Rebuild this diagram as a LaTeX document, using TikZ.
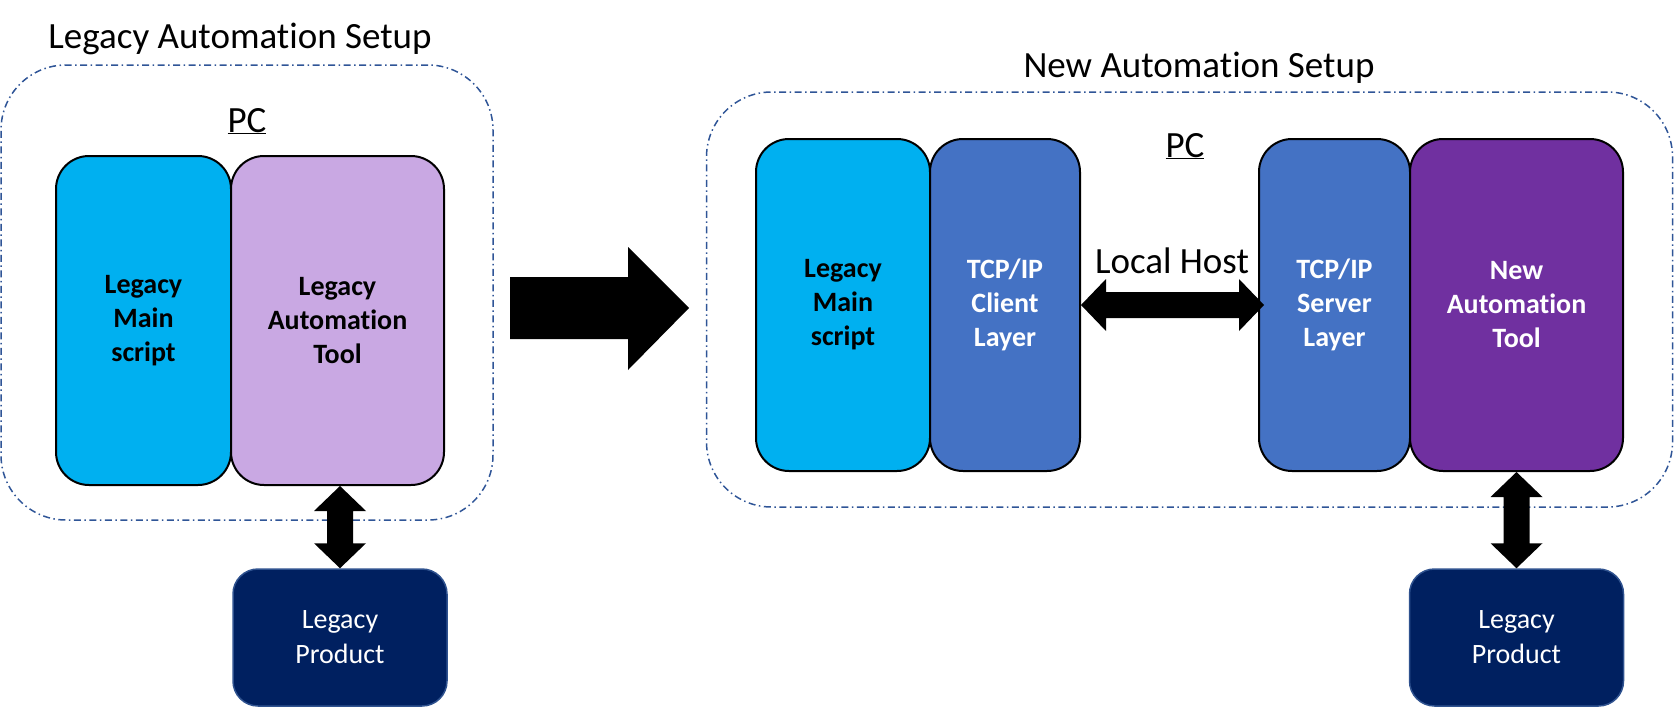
\documentclass[tikz,border=0pt]{standalone}
\usepackage{fontspec}
\setmainfont{Carlito}[Ligatures={NoCommon}]
\usetikzlibrary{calc}
\definecolor{cyanbox}{HTML}{00B0F0}
\definecolor{lavbox}{HTML}{C9A8E3}
\definecolor{tcpbox}{HTML}{4472C4}
\definecolor{purbox}{HTML}{7030A0}
\definecolor{navybox}{HTML}{002060}
\definecolor{navyedge}{HTML}{2F528F}
\definecolor{dashcol}{HTML}{2F5597}
\begin{document}
\begin{tikzpicture}[x=1pt,y=-1pt,
  group/.style={draw=dashcol, line width=1.5pt, dash pattern=on 7pt off 3.5pt on 1.5pt off 3.5pt, rounded corners=65pt, inner sep=0pt},
  blk/.style={draw=black, line width=2pt, rounded corners=33pt, inner sep=0pt, align=center, font=\fontsize{28}{34}\selectfont\bfseries},
  prod/.style={draw=navyedge, line width=1.5pt, fill=navybox, rounded corners=25pt, inner sep=0pt, align=center, text=white, font=\fontsize{28}{35}\selectfont, minimum width=214pt, minimum height=137pt},
  title/.style={font=\fontsize{37}{40}\selectfont, anchor=base, inner sep=0pt},
  fat/.style={fill=black}
]
\useasboundingbox (0,0) rectangle (1674,707);

% groups
\node[group, minimum width=492pt, minimum height=455pt] (gleft) at (247,292.5) {};
\node[group, minimum width=966pt, minimum height=415pt] (gright) at (1189.5,299.5) {};

% titles
\node[title] (tleft) at (240,48) {Legacy Automation Setup};
\node[title] (tright) at (1199,77) {New Automation Setup};
\node[title] (pcleft) at (247,132) {\underline{PC}};
\node[title] (pcright) at (1185,157) {\underline{PC}};

% left boxes
\node[blk, fill=cyanbox, minimum width=175pt, minimum height=329pt] (lms) at (143.5,320.5) {Legacy\\Main\\script};
\node[blk, fill=lavbox, minimum width=213pt, minimum height=329pt] (lat) at (337.5,320.5) {Legacy\\Automation\\Tool};
\node[prod] (lp) at (340,637.5) {Legacy\\Product};

% right boxes
\node[blk, fill=cyanbox, minimum width=174pt, minimum height=332pt] (rms) at (843,305) {Legacy\\Main\\script};
\node[blk, fill=tcpbox, text=white, minimum width=150pt, minimum height=332pt] (client) at (1005,305) {TCP/IP\\Client\\Layer};
\node[blk, fill=tcpbox, text=white, minimum width=151pt, minimum height=332pt] (server) at (1334.5,305) {TCP/IP\\Server\\Layer};
\node[blk, fill=purbox, text=white, minimum width=213pt, minimum height=332pt] (nat) at (1516.5,305) {New\\Automation\\Tool};
\node[prod] (rp) at (1516.5,637.5) {Legacy\\Product};

% vertical double arrows
\coordinate (la) at (lat.south -| lp.north);
\fill[fat] (la) -- ++(26,25) -- ++(-13,0) -- ($(lp.north)+(13,-25)$) -- ++(13,0) -- (lp.north) -- ++(-26,-25) -- ++(13,0) -- ($(la)+(-13,25)$) -- ++(-13,0) -- cycle;
\coordinate (ra) at (nat.south -| rp.north);
\fill[fat] (ra) -- ++(26,25) -- ++(-13,0) -- ($(rp.north)+(13,-25)$) -- ++(13,0) -- (rp.north) -- ++(-26,-25) -- ++(13,0) -- ($(ra)+(-13,25)$) -- ++(-13,0) -- cycle;

% local host arrow
\coordinate (lhA) at (client.east);
\coordinate (lhB) at ($(server.west)+(6,0)$);
\fill[fat] (lhA) -- ++(25,-26) -- ++(0,13) -- ($(lhB)+(-25,-13)$) -- ++(0,-13) -- (lhB) -- ++(-25,26) -- ++(0,-13) -- ($(lhA)+(25,13)$) -- ++(0,13) -- cycle;
\node[title] (lh) at (1172,273) {Local Host};

% big transition arrow
\coordinate (bigS) at (510,308);
\coordinate (bigT) at (689,308);
\fill[fat] ($(bigS)+(0,-31)$) -- ($(bigT)+(-61,-31)$) -- ($(bigT)+(-61,-61)$) -- (bigT) -- ($(bigT)+(-61,62)$) -- ($(bigT)+(-61,31)$) -- ($(bigS)+(0,31)$) -- cycle;
\end{tikzpicture}
\end{document}
